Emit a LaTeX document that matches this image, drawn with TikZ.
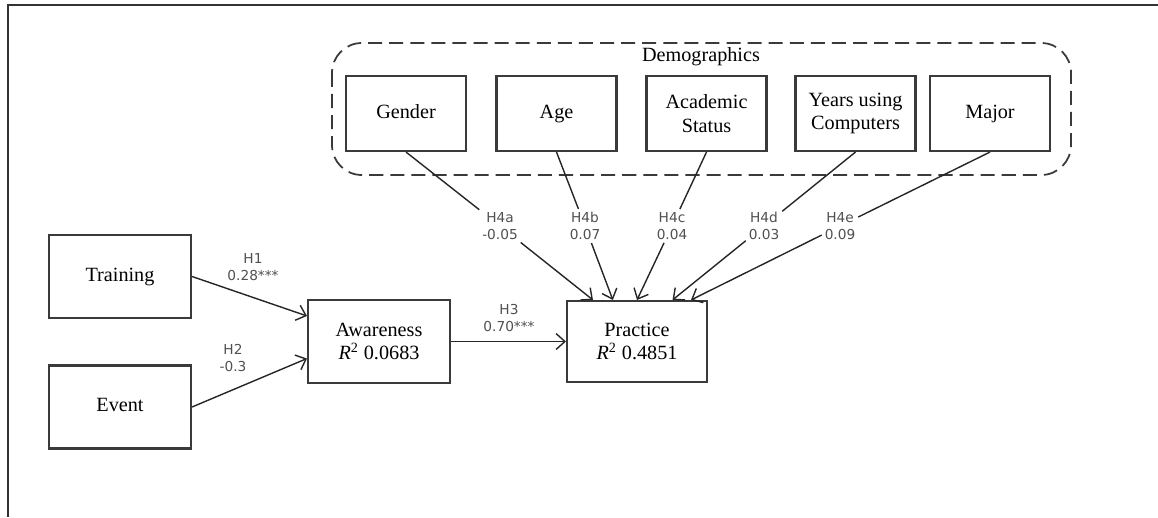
\documentclass[tikz,border=0pt]{standalone}
\usepackage{fontspec}
\setmainfont{Liberation Serif}
\newfontfamily\coeffont{DejaVu Sans}
\usetikzlibrary{arrows.meta,calc}
\definecolor{boxline}{HTML}{3A3A3A}
\definecolor{coefgray}{HTML}{505050}
\newcommand{\rsq}{\textit{R}\textsuperscript{2}}

\begin{document}
\begin{tikzpicture}[x=0.02cm, y=-0.02cm, >={Straight Barb[length=5pt,width=9pt]},
  construct/.style={draw=boxline, line width=1.2pt, minimum width=2.4cm, minimum height=1.5cm,
    align=center, inner sep=2pt, font=\fontsize{11.5}{13.5}\selectfont},
  mainbox/.style={construct, minimum width=2.84cm, minimum height=1.66cm},
  coef/.style={font=\coeffont\fontsize{7.8}{10}\selectfont, text=coefgray, align=center, inner sep=1.5pt},
  link/.style={line width=0.8pt, black!85}]
  \useasboundingbox (0,0) rectangle (1158,517);
  % Frame
  \draw[line width=0.8pt, black!80] (1158,5) -- (8,5) -- (8,517);
  % Demographics group
  \draw[boxline, line width=1pt, dash pattern=on 8pt off 4pt, rounded corners=17pt]
    (332,43) rectangle (1071,175);
  \node[font=\fontsize{11.5}{13.5}\selectfont] (demo) at (701,57) {Demographics};
  \node[construct] (gender) at (406,113.5) {\strut Gender};
  \node[construct] (age) at (556.5,113.5) {\strut Age};
  \node[construct] (acad) at (706.5,113.5) {Academic\\Status};
  \node[construct] (years) at (855.5,113.5) {Years using\\Computers};
  \node[construct] (major) at (990,113.5) {\strut Major};
  % Model
  \node[mainbox] (train) at (120,276.5) {\strut Training};
  \node[mainbox] (event) at (120,407) {\strut Event};
  \node[mainbox] (aware) at (379,341.5) {Awareness\\\rsq{} 0.0683};
  \node[mainbox, minimum width=2.8cm, minimum height=1.62cm] (pract) at (637,341.5) {Practice\\\rsq{} 0.4851};
  % Path coefficients
  \node[coef] (h1) at (253,267) {H1\\0.28***};
  \node[coef] (h2) at (233,358) {H2\\-0.3};
  \node[coef] (h3) at (509,318) {H3\\0.70***};
  \node[coef] (h4a) at (500,226) {H4a\\-0.05};
  \node[coef] (h4b) at (585,226) {H4b\\0.07};
  \node[coef] (h4c) at (672,226) {H4c\\0.04};
  \node[coef] (h4d) at (764,226) {H4d\\0.03};
  \node[coef] (h4e) at (840,226) {H4e\\0.09};
  % Paths
  \draw[link, ->] (train.east) -- ($(aware.north west)!0.2!(aware.south west)$);
  \draw[link, ->] (event.east) -- ($(aware.north west)!0.7!(aware.south west)$);
  \draw[link, ->] (aware.east) -- (pract.west);
  \draw[link] (gender.south) -- (h4a);
  \draw[link, ->] (h4a) -- ($(pract.north west)!0.19!(pract.north east)$);
  \draw[link] (age.south) -- (h4b);
  \draw[link, ->] (h4b) -- ($(pract.north west)!0.33!(pract.north east)$);
  \draw[link] (acad.south) -- (h4c);
  \draw[link, ->] (h4c) -- ($(pract.north west)!0.5!(pract.north east)$);
  \draw[link] (years.south) -- (h4d);
  \draw[link, ->] (h4d) -- ($(pract.north west)!0.75!(pract.north east)$);
  \draw[link] (major.south) -- (h4e);
  \draw[link, ->] (h4e) -- ($(pract.north west)!0.88!(pract.north east)$);
\end{tikzpicture}
\end{document}
